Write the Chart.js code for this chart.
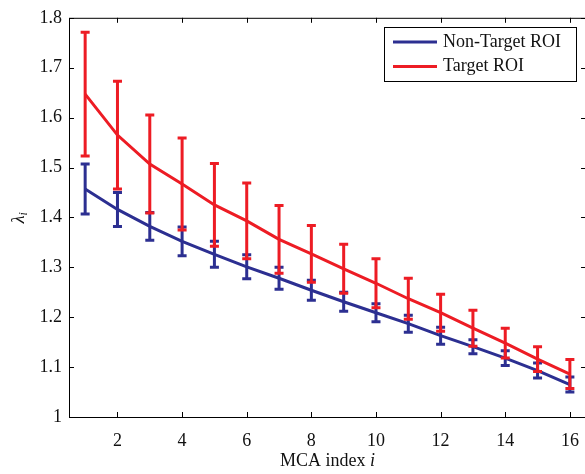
<!DOCTYPE html>
<html>
<head>
<meta charset="utf-8">
<script src="https://cdn.jsdelivr.net/npm/chart.js@4"></script>
<style>
  html, body { margin: 0; padding: 0; background: #fff; overflow: hidden; }
  #wrap { width: 592px; height: 474px; }
</style>
</head>
<body>
<div id="wrap"><canvas id="canvasLambda" width="592" height="474"></canvas></div>
<script>
// MCA index values
const mcaIndex = [1, 2, 3, 4, 5, 6, 7, 8, 9, 10, 11, 12, 13, 14, 15, 16];

const nonTargetMean = [1.457, 1.416, 1.382, 1.352, 1.326, 1.301, 1.278, 1.254, 1.231, 1.209, 1.187, 1.163, 1.141, 1.118, 1.093, 1.065];
const nonTargetErr  = [0.050, 0.034, 0.028, 0.029, 0.026, 0.024, 0.022, 0.020, 0.019, 0.018, 0.017, 0.017, 0.014, 0.015, 0.015, 0.015];

const targetMean = [1.647, 1.565, 1.507, 1.467, 1.425, 1.393, 1.356, 1.327, 1.297, 1.268, 1.237, 1.209, 1.178, 1.148, 1.116, 1.086];
const targetErr  = [0.124, 0.108, 0.098, 0.092, 0.083, 0.076, 0.068, 0.057, 0.049, 0.049, 0.041, 0.037, 0.036, 0.030, 0.025, 0.029];

const xTicks = [2, 4, 6, 8, 10, 12, 14, 16];
const yTicks = [1, 1.1, 1.2, 1.3, 1.4, 1.5, 1.6, 1.7, 1.8];

const blue = 'rgb(44,47,145)';
const red = 'rgb(237,28,36)';
const serif = '"Liberation Serif", "DejaVu Serif", serif';

function toPoints(means)
{
    return mcaIndex.map((x, i) => ({ x: x, y: means[i] }));
}

// error bars drawn right after each line
const errorBarPlugin = {
    id: 'errorBars',
    afterDatasetDraw(chart, args) {
        const ds = chart.data.datasets[args.index];
        if (!ds.errors) return;
        const ctx = chart.ctx;
        const xs = chart.scales.x, ys = chart.scales.y;
        ctx.save();
        ctx.strokeStyle = ds.borderColor;
        ctx.lineWidth = 3;
        ctx.lineCap = 'butt';
        ds.data.forEach((p, i) => {
            const px = xs.getPixelForValue(p.x);
            const top = ys.getPixelForValue(p.y + ds.errors[i]);
            const bot = ys.getPixelForValue(p.y - ds.errors[i]);
            ctx.beginPath();
            ctx.moveTo(px, top); ctx.lineTo(px, bot);
            ctx.moveTo(px - 4.5, top); ctx.lineTo(px + 4.5, top);
            ctx.moveTo(px - 4.5, bot); ctx.lineTo(px + 4.5, bot);
            ctx.stroke();
        });
        ctx.restore();
    }
};

// frame, inward ticks, titles and legend
const decorPlugin = {
    id: 'decor',
    afterDraw(chart) {
        const ctx = chart.ctx;
        const a = chart.chartArea;
        const xs = chart.scales.x, ys = chart.scales.y;
        ctx.save();
        ctx.strokeStyle = '#000';
        ctx.lineWidth = 1;
        ctx.strokeRect(a.left + 0.5, a.top + 0.5, a.right - a.left, a.bottom - a.top);
        ctx.beginPath();
        xTicks.forEach(v => {
            const px = Math.round(xs.getPixelForValue(v)) + 0.5;
            ctx.moveTo(px, a.bottom); ctx.lineTo(px, a.bottom - 5);
            ctx.moveTo(px, a.top); ctx.lineTo(px, a.top + 5);
        });
        yTicks.forEach(v => {
            const py = Math.round(ys.getPixelForValue(v)) + 0.5;
            ctx.moveTo(a.left, py); ctx.lineTo(a.left + 5, py);
            ctx.moveTo(a.right, py); ctx.lineTo(a.right - 5, py);
        });
        ctx.stroke();

        // x title
        ctx.fillStyle = '#111';
        ctx.textBaseline = 'middle';
        const t1 = 'MCA index ';
        ctx.font = '18px ' + serif;
        const w1 = ctx.measureText(t1).width;
        ctx.font = 'italic 18px ' + serif;
        const w2 = ctx.measureText('i').width;
        let sx = (a.left + a.right) / 2 - (w1 + w2) / 2;
        ctx.font = '18px ' + serif;
        ctx.textAlign = 'left';
        ctx.fillText(t1, sx, 461);
        ctx.font = 'italic 18px ' + serif;
        ctx.fillText('i', sx + w1, 461);

        // y title
        ctx.save();
        ctx.translate(19, (a.top + a.bottom) / 2);
        ctx.rotate(-Math.PI / 2);
        ctx.font = 'italic 18px ' + serif;
        const wl = ctx.measureText('λ').width;
        ctx.fillText('λ', -wl / 2 - 2, 0);
        ctx.font = 'italic 12px ' + serif;
        ctx.fillText('i', wl / 2 - 2, 5);
        ctx.restore();

        // legend
        const lx = 384, ly = 27, lw = 192, lh = 54;
        ctx.fillStyle = '#fff';
        ctx.fillRect(lx, ly, lw, lh);
        ctx.strokeStyle = '#000';
        ctx.lineWidth = 1;
        ctx.strokeRect(lx + 0.5, ly + 0.5, lw, lh);
        const entries = [chart.data.datasets[1], chart.data.datasets[0]];
        entries.forEach((ds, i) => {
            const cy = 42 + i * 24.5;
            ctx.strokeStyle = ds.borderColor;
            ctx.lineWidth = 3;
            ctx.beginPath();
            ctx.moveTo(393, cy); ctx.lineTo(437, cy);
            ctx.stroke();
            ctx.fillStyle = '#111';
            ctx.font = '18px ' + serif;
            ctx.textAlign = 'left';
            ctx.fillText(ds.label, 443, cy);
        });
        ctx.restore();
    }
};

const ctx = document.getElementById('canvasLambda').getContext('2d');

const canvasLambda = new Chart(ctx, {
    type: 'line',
    data: {
        datasets: [{
            label: 'Target ROI',
            data: toPoints(targetMean),
            errors: targetErr,
            borderColor: red,
            borderWidth: 3,
            pointRadius: 0,
            tension: 0,
            order: 1
        }, {
            label: 'Non-Target ROI',
            data: toPoints(nonTargetMean),
            errors: nonTargetErr,
            borderColor: blue,
            borderWidth: 3,
            pointRadius: 0,
            tension: 0,
            order: 2
        }]
    },
    options: {
        responsive: false,
        animation: false,
        layout: { padding: { top: 8, right: 4, left: 0, bottom: 0 } },
        plugins: { legend: { display: false }, tooltip: { enabled: false } },
        scales: {
            x: {
                type: 'linear',
                min: 0.5,
                max: 16.5,
                grid: { display: false, drawTicks: false },
                border: { display: false },
                afterBuildTicks: s => { s.ticks = xTicks.map(v => ({ value: v })); },
                afterFit: s => { s.height = 57; },
                ticks: {
                    padding: 13,
                    color: '#111',
                    font: { family: serif, size: 18 },
                    maxRotation: 0,
                    callback: v => String(v)
                }
            },
            y: {
                min: 1,
                max: 1.8,
                grid: { display: false, drawTicks: false },
                border: { display: false },
                afterBuildTicks: s => { s.ticks = yTicks.map(v => ({ value: v })); },
                afterFit: s => { s.width = 69; },
                ticks: {
                    padding: 7,
                    color: '#111',
                    font: { family: serif, size: 18 },
                    callback: v => String(+v.toFixed(1))
                }
            }
        }
    },
    plugins: [errorBarPlugin, decorPlugin]
});
</script>
</body>
</html>
